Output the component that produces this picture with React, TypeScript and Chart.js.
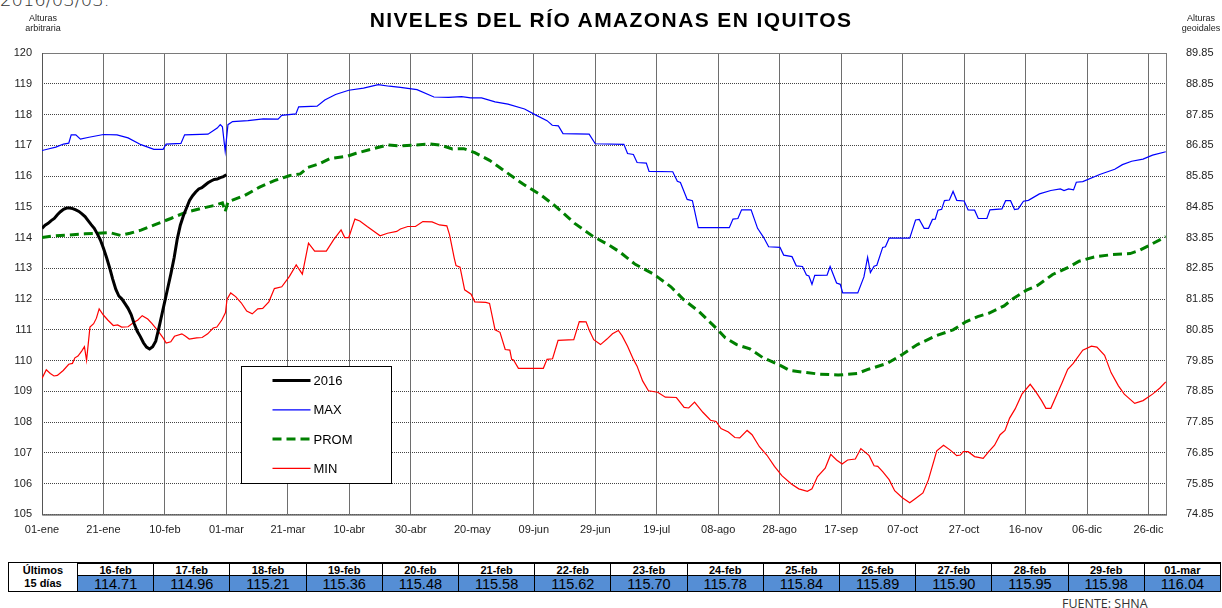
import React, { useEffect, useRef } from "react";
import { Chart, registerables } from "chart.js";

Chart.register(...registerables);

// ---------- DATA ----------
const tickDays = [0, 20, 40, 60, 80, 100, 120, 140, 160, 180, 200, 220, 240, 260, 280, 300, 320, 340, 360];
const tickLabels = [
  "01-ene", "21-ene", "10-feb", "01-mar", "21-mar", "10-abr", "30-abr", "20-may", "09-jun", "29-jun",
  "19-jul", "08-ago", "28-ago", "17-sep", "07-oct", "27-oct", "16-nov", "06-dic", "26-dic",
];
const rightTicks = [74.85, 75.85, 76.85, 77.85, 78.85, 79.85, 80.85, 81.85, 82.85, 83.85, 84.85, 85.85, 86.85, 87.85, 88.85, 89.85];

const days2016 = [
  0, 1, 2, 3, 4, 5, 6, 7, 8, 9, 10, 11, 12, 13, 14, 15, 16, 17, 18, 19, 20,
  21, 22, 23, 24, 25, 26, 27, 28, 29, 30, 31, 32, 33, 34, 35, 36, 37, 38, 39, 40,
  41, 42, 43, 44, 45, 46, 47, 48, 49, 50, 51, 52, 53, 54, 55, 56, 57, 58, 59, 60,
];
const values2016 = [
  114.30, 114.40, 114.46, 114.55, 114.62, 114.74, 114.84, 114.92, 114.96, 114.96, 114.94,
  114.90, 114.85, 114.77, 114.68, 114.55, 114.42, 114.30, 114.12, 113.92, 113.65,
  113.35, 113.02, 112.65, 112.32, 112.10, 112.00, 111.85, 111.70, 111.50, 111.20,
  110.95, 110.78, 110.58, 110.44, 110.38, 110.45, 110.63, 111.05, 111.50, 111.95,
  112.40, 112.85, 113.35, 113.95, 114.40, 114.71, 114.96, 115.21, 115.36, 115.48,
  115.58, 115.62, 115.70, 115.78, 115.84, 115.89, 115.90, 115.95, 115.98, 116.04,
];

const maxDays = [
  0, 2, 4.5, 7, 8.7, 9.5, 11, 12.5, 15.3, 20, 24.4, 28, 32.2, 36.4, 39.4, 40.4, 45.2, 46.4, 54, 57, 58, 58.7, 59.6, 60.5,
  62, 67, 72, 76.8, 78, 82.6, 83.5, 89.5, 92, 95.5, 99.8, 104.6, 109.4, 113, 116.6, 122, 127.5, 132.3, 136.5, 139.5,
  143, 147.4, 151.6, 157, 160.7, 164.3, 166, 168, 169.5, 178, 180, 189.3, 190.5, 192.4, 193.6, 196.6, 197.5, 205.2,
  206.7, 207.7, 209.9, 211.6, 213.5, 223.6, 224.8, 226.4, 227.6, 230.7, 232.8, 234.8, 236.4, 240.1, 241.3, 244,
  245.4, 247.4, 248.7, 249.5, 250.5, 251.4, 255.4, 256.4, 258.5, 259.7, 260.5, 265.4, 267.4, 268.6, 269.5, 270.7,
  271.6, 273.5, 274.4, 275.6, 282.3, 284.2, 285.4, 287, 288.4, 289.7, 290.6, 291.5, 292.7, 293.6, 295.2, 296.4,
  297.6, 300, 301.3, 303.4, 304.6, 307.4, 308.4, 312.3, 313.5, 315.1, 316.4, 317.6, 319.3, 320.9, 324.5, 328.2,
  331.3, 332.5, 334, 335.6, 336.5, 338.6, 344.1, 349, 351.5, 354.5, 358.2, 361.3, 365.6,
];
const maxValues = [
  116.83, 116.88, 116.94, 117.04, 117.07, 117.34, 117.34, 117.2, 117.26, 117.35, 117.34, 117.24, 117.02, 116.87, 116.87,
  117.04, 117.06, 117.34, 117.36, 117.56, 117.67, 117.6, 116.81, 117.67,
  117.77, 117.8, 117.86, 117.85, 117.97, 118.02, 118.25, 118.27, 118.47, 118.65, 118.79, 118.86, 118.97, 118.92, 118.88,
  118.81, 118.57, 118.56, 118.58, 118.54,
  118.54, 118.41, 118.34, 118.18, 117.98, 117.8, 117.65, 117.63, 117.38, 117.36, 117.05, 117.03, 116.73, 116.7, 116.44,
  116.42, 116.15, 116.14,
  115.83, 115.79, 115.24, 115.2, 114.32, 114.32, 114.6, 114.62, 114.9, 114.9, 114.3, 114.0, 113.7, 113.68, 113.43, 113.38,
  113.08, 113.06, 112.78, 112.75, 112.48, 112.77, 112.78, 113.06, 112.52, 112.48, 112.2, 112.2, 112.72, 113.36, 112.86, 113.07,
  113.1, 113.68, 113.7, 113.98, 113.98, 114.57, 114.59, 114.3, 114.3, 114.59, 114.6, 114.89, 114.92, 115.2, 115.22, 115.5,
  115.21, 115.19, 114.9, 114.89, 114.62, 114.62, 114.9, 114.93, 115.2, 115.2, 114.91, 114.93, 115.18, 115.21, 115.42, 115.53,
  115.58, 115.53, 115.58, 115.55, 115.8, 115.82, 116.05, 116.22, 116.37, 116.48, 116.55, 116.68, 116.79,
];

const promDays = [
  0, 3.3, 8, 14, 22, 25.6, 28.6, 32.2, 37, 41.9, 46.7, 51.5, 56.3, 58.7, 59.6, 60.5, 66, 70.8, 75.6, 80.4, 84, 86.5, 90,
  93.7, 99.2, 102.2, 107, 112.4, 116.6, 121.5, 126.3, 129.9, 133.5, 137.2, 140.8, 145.6, 150.4, 156.5, 162.5, 167.3,
  173.3, 179.4, 184.2, 188, 193, 199, 204.6, 208.9, 213.8, 219.9, 222.3, 226, 230.3, 234.6, 239.5, 243.2, 248.7, 253,
  259, 265.2, 268.9, 275, 279.9, 284.8, 290.9, 296.4, 300.7, 304.4, 308, 313, 316, 320.3, 324, 328.8, 333.7, 337.4,
  342.3, 348.4, 354, 357, 360.7, 365.6,
];
const promValues = [
  114.0, 114.05, 114.08, 114.12, 114.16, 114.07, 114.14, 114.24, 114.43, 114.62, 114.82, 114.94, 115.05, 115.13, 114.84,
  115.16, 115.37, 115.64, 115.85, 116.01, 116.07, 116.28, 116.39,
  116.57, 116.64, 116.74, 116.87, 117.01, 116.98, 117.01, 117.04, 117.0, 116.88, 116.89, 116.76, 116.51, 116.17, 115.74,
  115.37, 115.0,
  114.46, 114.03, 113.77, 113.53, 113.13, 112.81, 112.4, 111.97, 111.59, 111.0, 110.74, 110.52, 110.38, 110.09, 109.88,
  109.68, 109.61, 109.56,
  109.53, 109.58, 109.72, 109.91, 110.2, 110.52, 110.81, 111.0, 111.27, 111.43, 111.54, 111.78, 112.02, 112.29, 112.45,
  112.8, 113.02, 113.23,
  113.37, 113.45, 113.48, 113.58, 113.77, 114.03,
];

const minDays = [
  0, 1.4, 2.7, 3.9, 5, 6.9, 8.7, 9.9, 10.7, 11.7, 12.9, 13.8, 14.5, 15.6, 16.8, 17.7, 18.6, 19.9, 21.4, 23.2, 24.6, 25.9,
  28, 29.8, 31.2, 32.6, 34.4, 35.8, 37.6, 39.4, 40.4, 41.9, 43.1, 45.5, 46.7, 47.9, 50.3, 52.1, 53.9, 55.7, 56.9, 58.5,
  59.7, 60.2, 61.4, 63, 64.8, 66.6, 68.4, 70.2, 71.8, 73.8, 75.6, 78, 80.5, 82.7, 84.7, 86.7, 88.7, 92.5, 94.9, 97.3,
  98.5, 99.8, 101.8, 103.4, 105.8, 110, 112.4, 115.4, 116.6, 119, 121.5, 123.9, 126.9, 129.3, 131.7, 132.6, 134.1,
  134.7, 136, 137.5, 139.6, 140.8, 144.4, 145.6, 147.4, 149, 150.7, 152.2, 152.8, 153.4, 155, 163.1, 164.3, 166.1,
  167.9, 173, 174.8, 177, 178.2, 179.5, 181.7, 183.8, 185.6, 187.5, 188.7, 190.5, 192.4, 193.6, 195.4, 197.3, 200.3,
  202.8, 206.4, 208.9, 210.4, 212.3, 215, 217.5, 219.3, 220.9, 223.3, 225.4, 227, 229.4, 231, 233.4, 235.8, 238.3,
  240.7, 243.8, 246.2, 249, 250.5, 252.3, 254.8, 256.6, 258.5, 260.3, 262.1, 264.6, 266.4, 269.1, 270.7, 271.9, 273.5,
  275.6, 277.4, 279.9, 282.3, 284.2, 286.6, 288.4, 291.1, 293.3, 295.5, 297.6, 298.8, 299.7, 301.3, 303.4, 306.2, 308,
  309.9, 311.7, 313.3, 314.8, 316.6, 318.8, 321.5, 323.3, 325.2, 326.6, 328.2, 330, 331.9, 333.7, 335.5, 338.6, 341.4,
  343.2, 345.7, 347.8, 350.2, 352.1, 355.5, 358.2, 361.3, 363.7, 365.6,
];
const minValues = [
  109.42, 109.7, 109.58, 109.5, 109.52, 109.68, 109.88, 109.91, 110.09, 110.15, 110.31, 110.45, 110.01, 111.09, 111.2,
  111.38, 111.68, 111.49, 111.32, 111.14, 111.16, 111.09,
  111.1, 111.24, 111.32, 111.46, 111.35, 111.2, 110.98, 110.74, 110.57, 110.61, 110.79, 110.87, 110.79, 110.7, 110.74,
  110.75, 110.87, 111.06, 111.09, 111.32,
  111.56, 112.0, 112.2, 112.08, 111.88, 111.61, 111.52, 111.68, 111.7, 111.91, 112.34, 112.4, 112.74, 113.11, 112.81,
  113.82, 113.56, 113.56, 113.93, 114.25,
  114.0, 114.0, 114.6, 114.54, 114.36, 114.06, 114.14, 114.2, 114.28, 114.36, 114.36, 114.52, 114.51, 114.41, 114.38,
  114.09, 113.34,
  113.09, 113.04, 112.3, 112.16, 111.91, 111.89, 111.86, 111.0, 110.92, 110.36, 110.34, 110.04, 110.02, 109.75, 109.75,
  110.04, 110.06,
  110.66, 110.68, 111.27, 111.26, 110.95, 110.68, 110.52, 110.7, 110.87, 110.98, 110.81, 110.47, 110.04, 109.82, 109.34,
  109.02, 108.97,
  108.81, 108.8, 108.48, 108.46, 108.65, 108.32, 108.06, 108.02, 107.79, 107.68, 107.5, 107.49, 107.73, 107.59, 107.2,
  106.93, 106.56,
  106.26, 105.99, 105.83, 105.75, 105.83, 106.23, 106.5, 106.95, 106.77, 106.64, 106.77, 106.8, 107.14, 106.91, 106.58,
  106.56, 106.39,
  106.13, 105.77, 105.54, 105.38, 105.52, 105.7, 106.13, 107.07, 107.25, 107.09, 106.91, 106.93, 107.04, 107.04, 106.88,
  106.82, 107.04,
  107.25, 107.59, 107.73, 108.13, 108.43, 108.91, 109.23, 108.99, 108.7, 108.45, 108.45, 108.86, 109.29, 109.72, 109.91,
  110.34, 110.47,
  110.44, 110.17, 109.61, 109.18, 108.91, 108.61, 108.7, 108.91, 109.11, 109.31,
];

const tableDates = [
  "16-feb", "17-feb", "18-feb", "19-feb", "20-feb", "21-feb", "22-feb", "23-feb",
  "24-feb", "25-feb", "26-feb", "27-feb", "28-feb", "29-feb", "01-mar",
];
const tableValues = [
  "114.71", "114.96", "115.21", "115.36", "115.48", "115.58", "115.62", "115.70",
  "115.78", "115.84", "115.89", "115.90", "115.95", "115.98", "116.04",
];

const seriesNames = ["2016", "MAX", "PROM", "MIN"];

// ---------- STYLE ----------
const FONT = "'Liberation Sans', Arial, Helvetica, sans-serif";
const COLORS = { y2016: "#000000", max: "#0000FF", prom: "#008000", min: "#FF0000" };

const toPoints = (xs: number[], ys: number[]) => xs.map((x, i) => ({ x, y: ys[i] }));

const frameAndLegend = {
  id: "frameAndLegend",
  beforeDatasetsDraw(chart: any) {
    const { ctx, chartArea: a } = chart;
    ctx.save();
    ctx.strokeStyle = "#7a7a7a";
    ctx.lineWidth = 1;
    ctx.strokeRect(a.left + 0.5, a.top + 0.5, a.right - a.left - 1, a.bottom - a.top);
    ctx.strokeStyle = "#555";
    ctx.beginPath();
    ctx.moveTo(a.left + 0.5, a.top);
    ctx.lineTo(a.left + 0.5, a.bottom + 0.5);
    ctx.lineTo(a.right, a.bottom + 0.5);
    ctx.stroke();
    ctx.restore();
  },
  afterDatasetsDraw(chart: any) {
    const { ctx, chartArea: a } = chart;
    const bx = a.left + 199.5;
    const by = a.top + 313.5;
    const bw = 150;
    const bh = 117;
    ctx.save();
    ctx.fillStyle = "#fff";
    ctx.fillRect(bx, by, bw, bh);
    ctx.strokeStyle = "#000";
    ctx.lineWidth = 1;
    ctx.strokeRect(bx, by, bw, bh);
    const ds = chart.data.datasets;
    ds.forEach((d: any, i: number) => {
      const y = by + 14 + i * 29.3;
      ctx.beginPath();
      ctx.strokeStyle = d.borderColor;
      ctx.lineWidth = d.borderWidth;
      ctx.setLineDash(d.borderDash || []);
      ctx.moveTo(bx + 31, y);
      ctx.lineTo(bx + 69, y);
      ctx.stroke();
      ctx.setLineDash([]);
      ctx.fillStyle = "#000";
      ctx.font = `13px ${FONT}`;
      ctx.textBaseline = "middle";
      ctx.textAlign = "left";
      ctx.fillText(d.label, bx + 72, y + 1);
    });
    ctx.restore();
  },
};

function RiverChart() {
  const ref = useRef<HTMLCanvasElement | null>(null);
  useEffect(() => {
    if (!ref.current) return;
    const tickFont = { family: FONT, size: 11 };
    const chart = new Chart(ref.current, {
      type: "line",
      data: {
        datasets: [
          { label: seriesNames[0], data: toPoints(days2016, values2016), borderColor: COLORS.y2016, borderWidth: 3, pointRadius: 0, tension: 0, yAxisID: "y" },
          { label: seriesNames[1], data: toPoints(maxDays, maxValues), borderColor: COLORS.max, borderWidth: 1.2, pointRadius: 0, tension: 0, yAxisID: "y" },
          { label: seriesNames[2], data: toPoints(promDays, promValues), borderColor: COLORS.prom, borderWidth: 3, borderDash: [9, 5], pointRadius: 0, tension: 0, yAxisID: "y" },
          { label: seriesNames[3], data: toPoints(minDays, minValues), borderColor: COLORS.min, borderWidth: 1.2, pointRadius: 0, tension: 0, yAxisID: "y" },
        ] as any,
      },
      options: {
        responsive: false,
        animation: false,
        devicePixelRatio: 1,
        layout: { padding: { top: 53, left: 0, right: 0, bottom: 0 } },
        plugins: { legend: { display: false }, title: { display: false }, tooltip: { enabled: false } },
        scales: {
          x: {
            type: "linear",
            min: 0,
            max: 366,
            afterBuildTicks: (s: any) => { s.ticks = tickDays.map((v) => ({ value: v })); },
            afterFit: (s: any) => { s.height = 20; },
            ticks: {
              autoSkip: false,
              maxRotation: 0,
              padding: 9,
              color: "#222",
              font: tickFont,
              callback: (v: any) => { const i = tickDays.indexOf(Number(v)); return i >= 0 ? tickLabels[i] : ""; },
            },
            grid: { color: "#6e6e6e", lineWidth: 1, drawTicks: false },
            border: { display: false },
          },
          y: {
            position: "left",
            min: 105,
            max: 120,
            afterFit: (s: any) => { s.width = 42; },
            ticks: { stepSize: 1, padding: 10, color: "#222", font: tickFont },
            grid: { color: "#444", lineWidth: 1, drawTicks: false },
            border: { display: false, dash: [1, 1] },
          },
          y1: {
            position: "right",
            min: 74.85,
            max: 89.85,
            afterBuildTicks: (s: any) => { s.ticks = rightTicks.map((v) => ({ value: v })); },
            afterFit: (s: any) => { s.width = 55; },
            ticks: { padding: 19, color: "#222", font: tickFont, callback: (v: any) => Number(v).toFixed(2) },
            grid: { drawOnChartArea: false, drawTicks: false },
            border: { display: false },
          },
        } as any,
      },
      plugins: [frameAndLegend],
    });
    return () => chart.destroy();
  }, []);
  return <canvas ref={ref} width={1222} height={540} style={{ position: "absolute", left: 0, top: 0, width: 1222, height: 540 }} />;
}

export default function App() {
  const colW = 76.2;
  const cellBase: React.CSSProperties = {
    position: "absolute",
    boxSizing: "border-box",
    display: "flex",
    alignItems: "center",
    justifyContent: "center",
    fontFamily: FONT,
    color: "#000",
  };
  return (
    <div style={{ position: "absolute", left: 0, top: 0, width: 1222, height: 608, overflow: "hidden", background: "#fff" }}>
      <div style={{ position: "absolute", left: 0, top: -11, fontFamily: "'DejaVu Sans', sans-serif", fontWeight: 300, fontSize: 18, color: "#333", whiteSpace: "nowrap" }}>
        2016/03/03.
      </div>
      <RiverChart />
      <div style={{ position: "absolute", left: 0, width: 1222, top: 8, textAlign: "center", fontFamily: FONT, fontWeight: "bold", fontSize: 21, letterSpacing: 1.4, color: "#000" }}>
        NIVELES DEL RÍO AMAZONAS EN IQUITOS
      </div>
      <div style={{ position: "absolute", left: 13, width: 60, top: 13, textAlign: "center", fontFamily: FONT, fontSize: 9, lineHeight: "10px", color: "#222" }}>
        Alturas<br />arbitraria
      </div>
      <div style={{ position: "absolute", left: 1176, width: 50, top: 13, textAlign: "center", fontFamily: FONT, fontSize: 9, lineHeight: "10px", color: "#222" }}>
        Alturas<br />geoidales
      </div>
      {/* table */}
      <div style={{ ...cellBase, left: 8, top: 562, width: 70, height: 30, border: "1px solid #000", flexDirection: "column", fontWeight: "bold", fontSize: 11, lineHeight: "13px" }}>
        <span>Últimos</span>
        <span>15 días</span>
      </div>
      {tableDates.map((d, i) => (
        <div key={"h" + i} style={{ ...cellBase, left: 77 + i * colW, top: 562, width: colW + 1, height: 14, border: "1px solid #000", borderTopWidth: 2, fontWeight: "bold", fontSize: 11 }}>
          {d}
        </div>
      ))}
      {tableValues.map((v, i) => (
        <div key={"v" + i} style={{ ...cellBase, left: 77 + i * colW, top: 575, width: colW + 1, height: 17, border: "1px solid #000", background: "#558ED5", fontSize: 14.5 }}>
          {v}
        </div>
      ))}
      <div style={{ position: "absolute", left: 1062, top: 595, fontFamily: "'Open Sans', sans-serif", fontSize: 12.5, color: "#333", whiteSpace: "nowrap" }}>
        FUENTE: SHNA
      </div>
    </div>
  );
}
